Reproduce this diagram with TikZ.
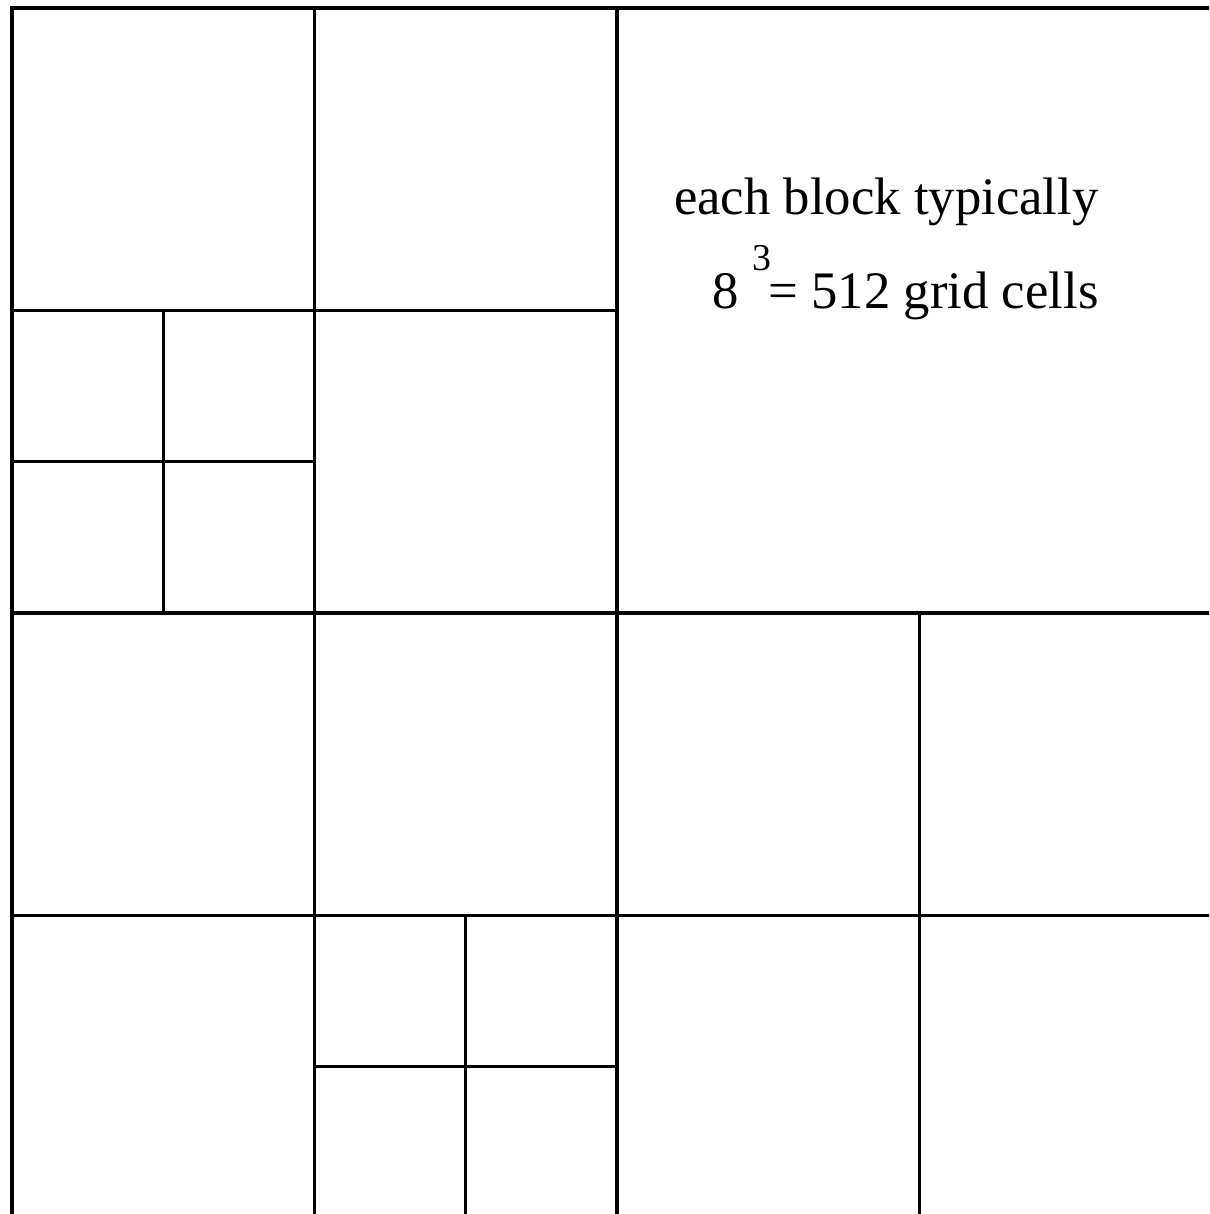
\documentclass[tikz,border=0pt]{standalone}
\usepackage{fontspec}
\setmainfont{Liberation Serif}
\tikzset{blockline/.style={line width=0.9pt, line cap=rect}}
\begin{document}
\begin{tikzpicture}[x=3.025cm, y=3.025cm]
    \useasboundingbox (-0.0397,0.0132) rectangle (3.9570,4.0264);
    \clip (-0.0397,0.0132) rectangle (3.9570,4.0264);
    \draw[blockline] (0,0) -- (0,4) -- (4,4);
    \draw[blockline] (1,0) -- (1,4);
    \draw[blockline] (2,0) -- (2,4);
    \draw[blockline] (3,0) -- (3,2);
    \draw[blockline] (0,3) -- (2,3);
    \draw[blockline] (0,2) -- (4,2);
    \draw[blockline] (0,1) -- (4,1);
    \draw[blockline] (0.5,2) -- (0.5,3);
    \draw[blockline] (0,2.5) -- (1,2.5);
    \draw[blockline] (1.5,0) -- (1.5,1);
    \draw[blockline] (1,0.5) -- (2,0.5);
    \node[anchor=base east, inner sep=0pt, font=\fontsize{15}{18}\selectfont] (blocktxt) at (3.594,3.316) {each block typically};
    \node[anchor=base east, inner sep=0pt, font=\fontsize{15}{18}\selectfont] (cellstxt) at (3.594,3.008)
        {8 \raisebox{0.72em}{\fontsize{10.8}{12}\selectfont 3}\hspace{-0.05em}= 512 grid cells};
\end{tikzpicture}
\end{document}
